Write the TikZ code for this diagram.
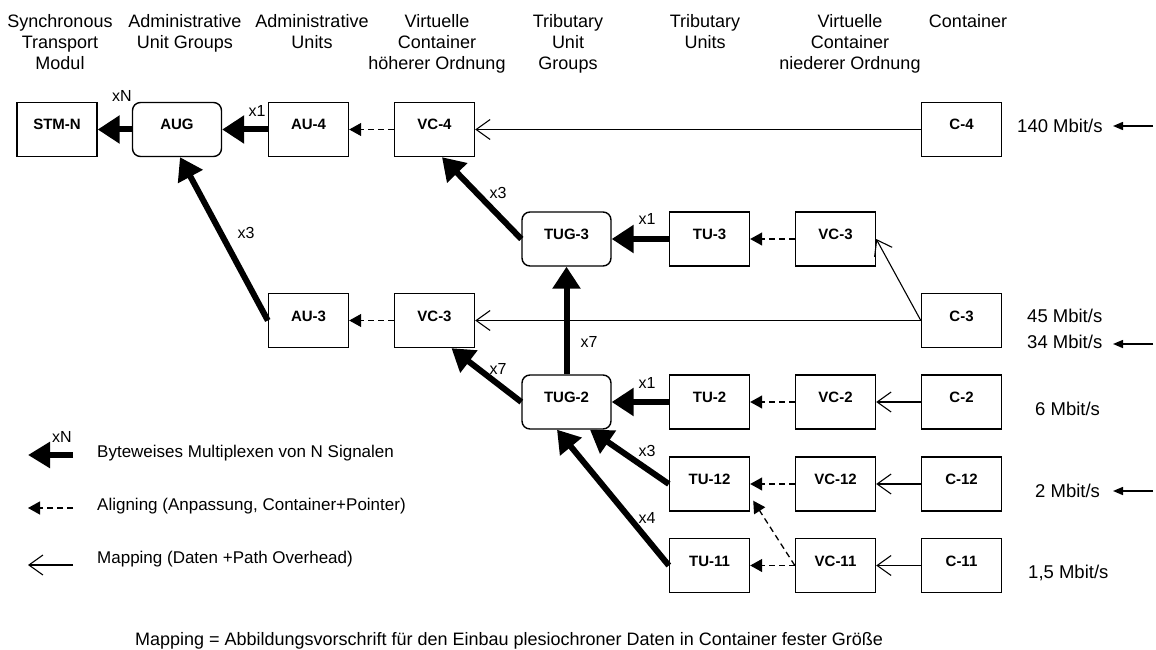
\documentclass[tikz,border=0pt]{standalone}
\usepackage{fontspec}
\setmainfont{Liberation Sans}
\usetikzlibrary{arrows.meta}
\begin{document}
\begin{tikzpicture}[x=1pt,y=-1pt,
  box/.style={draw, line width=1.4pt, minimum width=80pt, minimum height=54pt, inner sep=0pt,
    font=\fontsize{15}{15}\selectfont\bfseries, text height=11pt, text depth=10pt},
  rbox/.style={box, minimum width=89pt, rounded corners=8pt},
  head/.style={anchor=north, align=center, inner sep=0pt, font=\fontsize{18}{21}\selectfont},
  rate/.style={anchor=base west, inner sep=0pt, font=\fontsize{18.5}{18.5}\selectfont},
  lab/.style={inner sep=0pt, font=\fontsize{16}{16}\selectfont},
  legtxt/.style={anchor=base west, inner sep=0pt, font=\fontsize{17}{17}\selectfont},
  mux/.style={line width=6pt, -{Triangle[length=22pt,width=27pt]}},
  aligning/.style={line width=1.3pt, dash pattern=on 6pt off 4pt, -{Triangle[length=12pt,width=13pt]}},
  mapping/.style={line width=1.1pt, -{Straight Barb[length=14pt,width=20pt]}},
  ratearrow/.style={line width=1.5pt, -{Triangle[length=10pt,width=8pt]}}
]
\useasboundingbox (0,0) rectangle (1156,650);

% headers
\node[head] (h1) at (60,14) {Synchronous\\Transport\\Modul};
\node[head] (h2) at (185,14) {Administrative\\Unit Groups};
\node[head] (h3) at (312,14) {Administrative\\Units};
\node[head] (h4) at (437,14) {Virtuelle\\Container\\höherer Ordnung};
\node[head] (h5) at (568,14) {Tributary\\Unit\\Groups};
\node[head] (h6) at (705,14) {Tributary\\Units};
\node[head] (h7) at (850,14) {Virtuelle\\Container\\niederer Ordnung};
\node[head] (h8) at (968,14) {Container};

% row 1
\node[box]  (stm) at (57,129.5) {STM-N};
\node[rbox] (aug) at (177,129.5) {AUG};
\node[box]  (au4) at (308.5,129.5) {AU-4};
\node[box]  (vc4) at (434.5,129.5) {VC-4};
\node[box]  (c4)  at (961.5,129.5) {C-4};
% row TUG-3
\node[rbox] (tug3) at (566.5,239) {TUG-3};
\node[box]  (tu3)  at (709.5,239) {TU-3};
\node[box]  (vc3a) at (835.5,239) {VC-3};
% row 3
\node[box]  (au3)  at (308.5,320.5) {AU-3};
\node[box]  (vc3b) at (434.5,320.5) {VC-3};
\node[box]  (c3)   at (961.5,320.5) {C-3};
% row TUG-2
\node[rbox] (tug2) at (566.5,402) {TUG-2};
\node[box]  (tu2)  at (709.5,402) {TU-2};
\node[box]  (vc2)  at (835.5,402) {VC-2};
\node[box]  (c2)   at (961.5,402) {C-2};
% row 12
\node[box]  (tu12) at (709.5,484) {TU-12};
\node[box]  (vc12) at (835.5,484) {VC-12};
\node[box]  (c12)  at (961.5,484) {C-12};
% row 11
\node[box]  (tu11) at (709.5,565.5) {TU-11};
\node[box]  (vc11) at (835.5,565.5) {VC-11};
\node[box]  (c11)  at (961.5,565.5) {C-11};

% target points
\coordinate (augin)  at ([xshift=3pt]aug.south);
\coordinate (vc4in)  at ([xshift=7.5pt]vc4.south);
\coordinate (vc3bin) at ([xshift=17pt]vc3b.south);
\coordinate (tug2a)  at ([xshift=23.5pt]tug2.south);
\coordinate (tug2b)  at ([xshift=-9.5pt]tug2.south);
\coordinate (tu12in) at ([xshift=3pt,yshift=11pt]tu12.south east);

% multiplex arrows
\draw[mux] (aug.west) -- (stm.east);
\draw[mux] (au4.west) -- (aug.east);
\draw[mux] (au3.west) -- (augin);
\draw[mux] (tug3.west) -- (vc4in);
\draw[mux] (tu3.west) -- (tug3.east);
\draw[mux] (tug2.north) -- (tug3.south);
\draw[mux] (tug2.west) -- (vc3bin);
\draw[mux] (tu2.west) -- (tug2.east);
\draw[mux] (tu12.west) -- (tug2a);
\draw[mux] (tu11.west) -- (tug2b);

% aligning arrows
\draw[aligning] (vc4.west) -- (au4.east);
\draw[aligning] (vc3a.west) -- (tu3.east);
\draw[aligning] (vc3b.west) -- (au3.east);
\draw[aligning] (vc2.west) -- (tu2.east);
\draw[aligning] (vc12.west) -- (tu12.east);
\draw[aligning] (vc11.west) -- (tu11.east);
\draw[aligning] (vc11.west) -- (tu12in);

% mapping arrows
\draw[mapping] (c4.west) -- (vc4.east);
\draw[mapping] (c3.west) -- (vc3a.east);
\draw[mapping] (c3.west) -- (vc3b.east);
\draw[mapping] (c2.west) -- (vc2.east);
\draw[mapping] (c12.west) -- (vc12.east);
\draw[mapping] (c11.west) -- (vc11.east);

% multiplex labels
\node[lab] (lxn)  at (122,96)  {xN};
\node[lab] (lx1a) at (257,111) {x1};
\node[lab] (lx3a) at (498,193) {x3};
\node[lab] (lx1b) at (647,219) {x1};
\node[lab] (lx3b) at (246,233) {x3};
\node[lab] (lx7a) at (589,342) {x7};
\node[lab] (lx7b) at (498,369) {x7};
\node[lab] (lx1c) at (647,383) {x1};
\node[lab] (lx3c) at (647,451) {x3};
\node[lab] (lx4)  at (647,518) {x4};

% rates
\node[rate] (r140) at (1017,132) {140 Mbit/s};
\node[rate] (r45)  at (1027,322) {45 Mbit/s};
\node[rate] (r34)  at (1027,348) {34 Mbit/s};
\node[rate] (r6)   at (1035,415) {6 Mbit/s};
\node[rate] (r2)   at (1035,497) {2 Mbit/s};
\node[rate] (r15)  at (1028,578) {1,5 Mbit/s};
\coordinate (a140s) at (1153,126); \coordinate (a140e) at (1113,126);
\coordinate (a34s)  at (1153,344); \coordinate (a34e)  at (1113,344);
\coordinate (a2s)   at (1153,491); \coordinate (a2e)   at (1113,491);
\draw[ratearrow] (a140s) -- (a140e);
\draw[ratearrow] (a34s) -- (a34e);
\draw[ratearrow] (a2s) -- (a2e);

% legend
\coordinate (l1s) at (73,455); \coordinate (l1e) at (28,455);
\coordinate (l2s) at (73,508); \coordinate (l2e) at (28,508);
\coordinate (l3s) at (73,565); \coordinate (l3e) at (28,565);
\draw[line width=6pt, -{Triangle[length=22pt,width=25pt]}] (l1s) -- (l1e);
\draw[aligning] (l2s) -- (l2e);
\draw[mapping] (l3s) -- (l3e);
\node[lab] (lgxn) at (62,437) {xN};
\node[legtxt] (lg1) at (97,457) {Byteweises Multiplexen von N Signalen};
\node[legtxt] (lg2) at (97,510) {Aligning (Anpassung, Container+Pointer)};
\node[legtxt] (lg3) at (97,563) {Mapping (Daten +Path Overhead)};

% footnote
\node[anchor=base, inner sep=0pt, font=\fontsize{18}{18}\selectfont] (foot) at (509,645)
  {Mapping = Abbildungsvorschrift für den Einbau plesiochroner Daten in Container fester Größe};
\end{tikzpicture}
\end{document}
